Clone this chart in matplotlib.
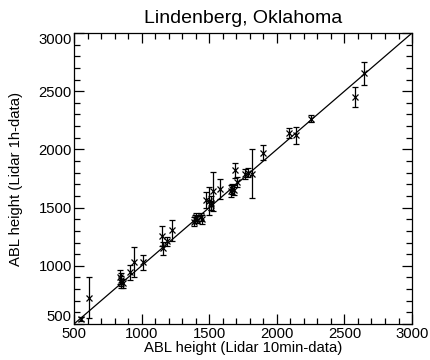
import matplotlib
matplotlib.use("Agg")
import matplotlib.pyplot as plt
from matplotlib.ticker import MultipleLocator
import numpy as np

plt.rcParams['font.family'] = ['Liberation Sans', 'DejaVu Sans']

# ABL heights (m)
lidar_10min = [555, 610, 840, 845, 850, 860, 915, 945, 1010,
               1150, 1160, 1185, 1222,
               1390, 1395, 1400, 1410, 1440, 1450,
               1475, 1495, 1510, 1515, 1525, 1580,
               1660, 1670, 1680, 1690, 1705, 1765, 1790, 1820,
               1900, 2090, 2140, 2250, 2580, 2645]
lidar_1h = [545, 725, 905, 880, 860, 850, 945, 1035, 1030,
            1255, 1150, 1210, 1305,
            1380, 1400, 1420, 1395, 1420, 1400,
            1565, 1560, 1520, 1540, 1640, 1660,
            1640, 1660, 1650, 1820, 1720, 1790, 1800, 1790,
            1970, 2140, 2120, 2265, 2450, 2655]
err_1h = [15, 175, 60, 55, 50, 40, 65, 130, 65,
          85, 55, 40, 90,
          40, 35, 35, 30, 35, 40,
          65, 120, 40, 60, 170, 85,
          50, 40, 45, 65, 40, 40, 40, 210,
          65, 40, 70, 30, 85, 100]
tick_vals = [500, 1000, 1500, 2000, 2500, 3000]

fig = plt.figure(figsize=(4.31, 3.60), dpi=100)
ax = fig.add_axes([0.1717, 0.1, 0.7843, 0.8083])

ax.plot([500, 3000], [500, 3000], color='black', lw=0.9)
ax.errorbar(lidar_10min, lidar_1h, yerr=err_1h, fmt='x', color='black',
            ms=4.5, mew=0.9, elinewidth=0.9, capsize=2, capthick=0.9)

ax.set_xlim(500, 3000)
ax.set_ylim(500, 3000)
ax.set_xticks(tick_vals)
ax.set_yticks(tick_vals)
ax.xaxis.set_minor_locator(MultipleLocator(100))
ax.yaxis.set_minor_locator(MultipleLocator(100))
ax.tick_params(which='both', direction='in', top=True, right=True,
               labelsize=10.7, width=0.9)
ax.tick_params(axis='x', which='major', pad=2.0)
ax.tick_params(axis='y', which='major', pad=1.5)
ax.tick_params(which='major', length=7)
ax.tick_params(which='minor', length=4)
for s in ax.spines.values():
    s.set_linewidth(0.9)

# IDL style: end labels on the y axis stay inside the axis range
ylabels = ax.get_yticklabels()
ylabels[0].set_va('bottom')
ylabels[-1].set_va('top')

ax.set_title("Lindenberg, Oklahoma", fontsize=14, pad=7)
ax.set_xlabel("ABL height (Lidar 10min-data)", fontsize=10.7)
ax.set_ylabel("ABL height (Lidar 1h-data)", fontsize=10.7)
ax.xaxis.set_label_coords(0.5, -0.083)
ax.yaxis.set_label_coords(-0.172, 0.5)
ax.xaxis.label.set_va('center')
ax.yaxis.label.set_va('center')

fig.savefig("out.png", dpi=100)
